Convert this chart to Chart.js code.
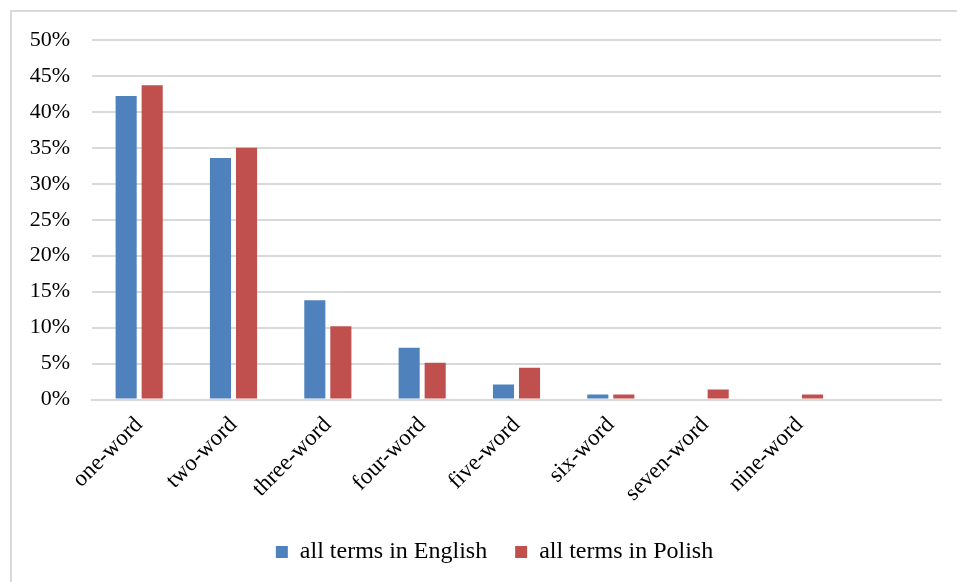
<!DOCTYPE html>
<html>
<head>
<meta charset="utf-8">
<script src="https://cdn.jsdelivr.net/npm/chart.js@4/dist/chart.umd.min.js"></script>
<style>
  html, body { margin: 0; padding: 0; background: #ffffff; overflow: hidden; }
  #wrap { position: relative; width: 957px; height: 582px; }
  #frame { position: absolute; left: 10px; top: 10px; width: 1200px; height: 1200px;
           border: 2px solid #d9d9d9; box-sizing: border-box; }
  #c { position: absolute; left: 0; top: 0; }
</style>
</head>
<body>
<div id="wrap">
  <div id="frame"></div>
  <canvas id="c" width="957" height="582"></canvas>
</div>
<script>
// Share of terms by number of words
const categories = ['one-word', 'two-word', 'three-word', 'four-word', 'five-word',
                    'six-word', 'seven-word', 'nine-word', ''];
const englishShare = [42.2, 33.6, 13.8, 7.2, 2.1, 0.7, 0, 0, null];
const polishShare  = [43.7, 35.0, 10.2, 5.1, 4.4, 0.7, 1.4, 0.7, null];
const seriesNames  = ['all terms in English', 'all terms in Polish'];
const yTicks = [0, 5, 10, 15, 20, 25, 30, 35, 40, 45, 50];

const serif = "'Liberation Serif', 'Times New Roman', serif";
const gridGray = '#d9d9d9';
const PLOT_LEFT = 92;
const PLOT_BOTTOM = 399.5;
const LEGEND_SHIFT = 24;   // legend is centred under the plot area rather than the canvas

const legendOffset = {
  id: 'legendOffset',
  afterLayout(chart) {
    if (chart.legend) {
      chart.legend.left += LEGEND_SHIFT;
      chart.legend.right += LEGEND_SHIFT;
    }
  }
};

new Chart(document.getElementById('c'), {
  type: 'bar',
  data: {
    labels: categories,
    datasets: [
      { label: seriesNames[0], data: englishShare, backgroundColor: '#4f81bd',
        borderWidth: 0, categoryPercentage: 0.552, barPercentage: 0.81 },
      { label: seriesNames[1], data: polishShare, backgroundColor: '#c0504d',
        borderWidth: 0, categoryPercentage: 0.552, barPercentage: 0.81 }
    ]
  },
  plugins: [legendOffset],
  options: {
    responsive: false,
    animation: false,
    layout: { padding: { top: 40, right: 16, bottom: 8, left: 0 } },
    plugins: {
      tooltip: { enabled: false },
      legend: {
        position: 'bottom',
        labels: {
          boxWidth: 12, boxHeight: 12, padding: 28,
          color: '#000000',
          font: { family: serif, size: 24 }
        }
      }
    },
    scales: {
      x: {
        grid: { display: false },
        border: { display: true, color: gridGray, width: 2 },
        ticks: {
          color: '#000000', font: { family: serif, size: 23 },
          minRotation: 45, maxRotation: 45, autoSkip: false, padding: 4
        },
        afterFit(scale) {
          const legendH = scale.chart.legend ? scale.chart.legend.height : 0;
          scale.height = scale.chart.height - 8 - legendH - PLOT_BOTTOM;
        }
      },
      y: {
        min: 0, max: 50,
        afterBuildTicks(scale) { scale.ticks = yTicks.map(v => ({ value: v })); },
        grid: { color: gridGray, lineWidth: 2, drawTicks: false },
        border: { display: false },
        ticks: {
          color: '#000000', font: { family: serif, size: 22 }, padding: 22,
          callback: v => v + '%'
        },
        afterFit(scale) { scale.width = PLOT_LEFT; }
      }
    }
  }
});
</script>
</body>
</html>
